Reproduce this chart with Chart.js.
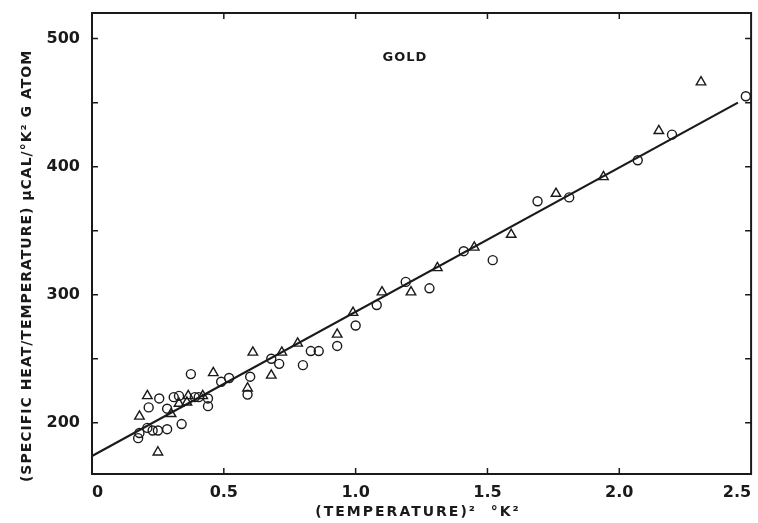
<!DOCTYPE html>
<html>
<head>
<meta charset="utf-8">
<script src="https://cdn.jsdelivr.net/npm/chart.js@4/dist/chart.umd.min.js"></script>
<style>
  html, body { margin:0; padding:0; background:#fff; }
  #wrap { width:758px; height:523px; }
</style>
</head>
<body>
<div id="wrap"><canvas id="c" width="758" height="523"></canvas></div>
<script>
// open circles: (T^2, C/T)
const circleX = [0.175,0.18,0.21,0.23,0.25,0.285,0.34,0.215,0.255,0.31,0.33,0.39,0.285,
                 0.375,0.405,0.44,0.44,0.49,0.52,0.59,0.60,0.68,0.71,0.80,0.83,0.86,
                 0.93,1.00,1.08,1.19,1.28,1.41,1.52,1.69,1.81,2.07,2.20,2.48];
const circleY = [188,192,196,194,194,195,199,212,219,220,221,220,211,
                 238,220,213,219,232,235,222,236,250,246,245,256,256,
                 260,276,292,310,305,334,327,373,376,405,425,455];

// open triangles
const triX = [0.18,0.25,0.21,0.30,0.33,0.36,0.365,0.42,0.46,0.59,0.61,0.68,0.72,0.78,
              0.93,0.99,1.10,1.21,1.31,1.45,1.59,1.76,1.94,2.15,2.31];
const triY = [205,177,221,207,215,216,221,221,239,227,255,237,255,262,
              269,286,302,302,321,337,347,379,392,428,466];

// fitted straight line
const fitX = [0, 2.45];
const fitY = [174, 450];

const xTicks = [0, 0.5, 1.0, 1.5, 2.0, 2.5];
const yMajor = [200, 300, 400, 500];

const toPts = (xs, ys) => xs.map((x, i) => ({ x: x, y: ys[i] }));

const INK = "#1a1a1a";

// frame, inward tick marks, axis titles and the GOLD label
const framePlugin = {
  id: "frame",
  afterDraw(chart) {
    const { ctx, chartArea: a, scales } = chart;
    ctx.save();
    ctx.strokeStyle = INK;
    ctx.lineWidth = 2;
    ctx.strokeRect(a.left, a.top, a.right - a.left, a.bottom - a.top);

    ctx.lineWidth = 1.5;
    ctx.beginPath();
    scales.y.ticks.forEach(t => {
      if (t.value % 50 !== 0 || t.value <= scales.y.min || t.value >= scales.y.max) return;
      const py = scales.y.getPixelForValue(t.value);
      ctx.moveTo(a.left, py); ctx.lineTo(a.left + 6, py);
      ctx.moveTo(a.right, py); ctx.lineTo(a.right - 6, py);
    });
    xTicks.forEach(v => {
      if (v <= scales.x.min || v >= scales.x.max) return;
      const px = scales.x.getPixelForValue(v);
      ctx.moveTo(px, a.bottom); ctx.lineTo(px, a.bottom - 6);
      ctx.moveTo(px, a.top); ctx.lineTo(px, a.top + 6);
    });
    ctx.stroke();

    ctx.fillStyle = INK;
    ctx.textAlign = "center";
    ctx.textBaseline = "middle";
    ctx.font = "bold 13px 'DejaVu Sans'";
    ctx.letterSpacing = "1px";
    ctx.fillText("GOLD", 405, 58);

    ctx.font = "bold 14px 'DejaVu Sans'";
    ctx.letterSpacing = "2px";
    ctx.fillText("(TEMPERATURE)\u00B2  \u00B0K\u00B2", 418, 512);

    ctx.translate(27, 266);
    ctx.rotate(-Math.PI / 2);
    ctx.font = "bold 14px 'DejaVu Sans'";
    ctx.letterSpacing = "1px";
    ctx.fillText("(SPECIFIC HEAT/TEMPERATURE) \u03BCCAL/\u00B0K\u00B2 G ATOM", 0, 0);
    ctx.restore();
  }
};

new Chart(document.getElementById("c").getContext("2d"), {
  type: "scatter",
  data: {
    datasets: [
      {
        type: "line",
        data: toPts(fitX, fitY),
        borderColor: INK,
        borderWidth: 2.2,
        pointRadius: 0,
        fill: false,
        order: 3
      },
      {
        data: toPts(circleX, circleY),
        pointStyle: "circle",
        pointRadius: 4.5,
        borderColor: INK,
        borderWidth: 1.4,
        backgroundColor: "rgba(0,0,0,0)",
        order: 1
      },
      {
        data: toPts(triX, triY),
        pointStyle: "triangle",
        pointRadius: 5.5,
        borderColor: INK,
        borderWidth: 1.4,
        backgroundColor: "rgba(0,0,0,0)",
        order: 2
      }
    ]
  },
  options: {
    responsive: false,
    animation: false,
    events: [],
    layout: { padding: { top: 13, right: 6, left: 0, bottom: 0 } },
    plugins: { legend: { display: false }, tooltip: { enabled: false } },
    scales: {
      x: {
        type: "linear",
        min: 0, max: 2.5,
        afterFit: s => { s.height = 49; s.paddingRight = 0; s.paddingLeft = 0; },
        afterBuildTicks: s => { s.ticks = xTicks.map(v => ({ value: v })); },
        grid: { display: false, drawTicks: false },
        border: { display: false },
        ticks: {
          autoSkip: false, maxRotation: 0, padding: 9, color: INK, align: "inner",
          font: { family: "DejaVu Sans", size: 16, weight: "bold" },
          callback: v => v === 0 ? "0" : v.toFixed(1)
        }
      },
      y: {
        type: "linear",
        min: 160, max: 520,
        afterFit: s => { s.width = 92; s.paddingTop = 0; s.paddingBottom = 0; },
        grid: { display: false, drawTicks: false },
        border: { display: false },
        ticks: {
          stepSize: 50, padding: 12, color: INK, autoSkip: false,
          font: { family: "DejaVu Sans", size: 16, weight: "bold" },
          callback: v => yMajor.includes(v) ? String(v) : ""
        }
      }
    }
  },
  plugins: [framePlugin]
});
</script>
</body>
</html>
